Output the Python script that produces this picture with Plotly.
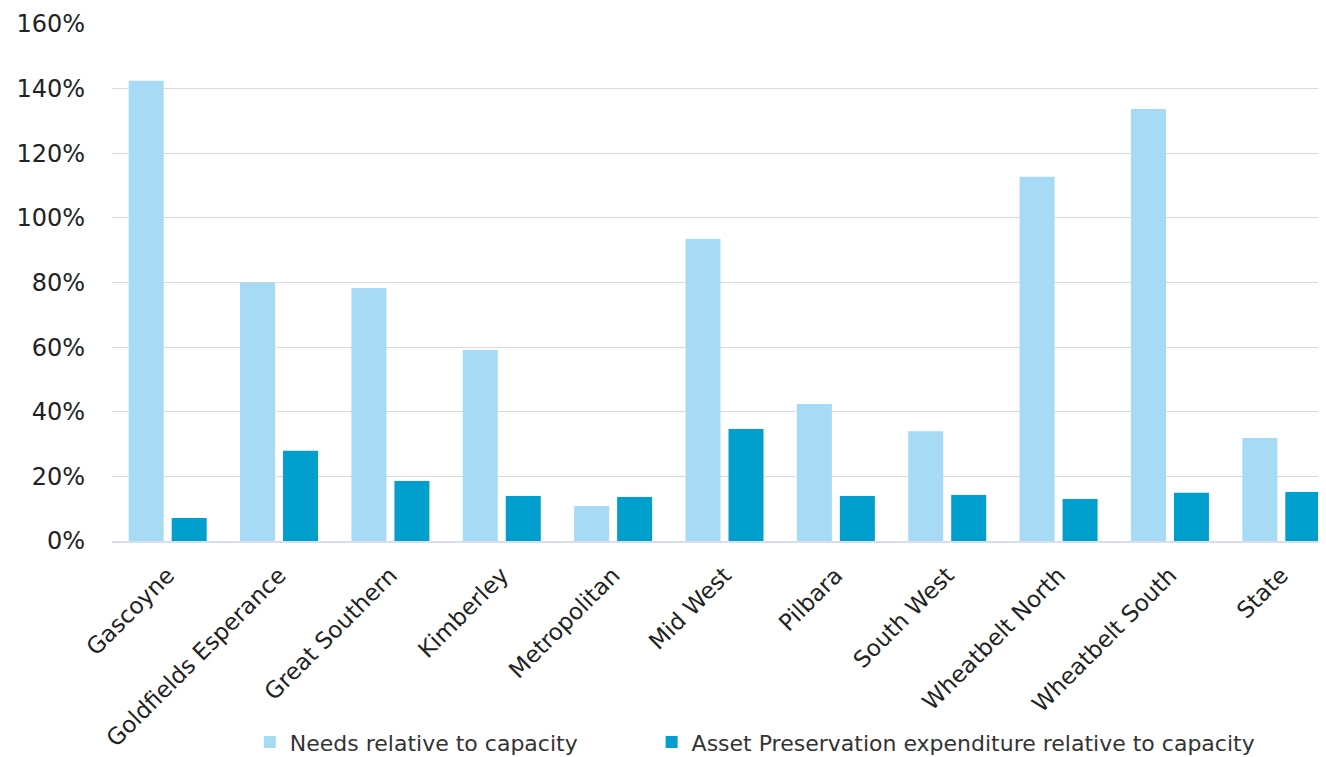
import plotly.graph_objects as go

categories = ["Gascoyne", "Goldfields Esperance", "Great Southern", "Kimberley",
              "Metropolitan", "Mid West", "Pilbara", "South West",
              "Wheatbelt North", "Wheatbelt South", "State"]
needs = [1.424, 0.80, 0.783, 0.591, 0.108, 0.935, 0.424, 0.340, 1.127, 1.337, 0.319]
asset_pres = [0.071, 0.279, 0.186, 0.139, 0.136, 0.347, 0.139, 0.142, 0.130, 0.149, 0.152]
yticks = [0, 0.2, 0.4, 0.6, 0.8, 1.0, 1.2, 1.4, 1.6]
font_family = "'DejaVu Sans', sans-serif"

fig = go.Figure()
fig.add_trace(go.Bar(x=categories, y=needs, name="Needs relative to capacity",
                     marker=dict(color="#A6DAF5", line=dict(width=0)),
                     legend="legend", showlegend=True))
fig.add_trace(go.Bar(x=categories, y=asset_pres,
                     name="Asset Preservation expenditure relative to capacity",
                     marker=dict(color="#009FCE", line=dict(width=0)),
                     legend="legend2", showlegend=True))

legend_common = dict(orientation="h", xanchor="left", y=-0.389, yanchor="middle",
                     font=dict(size=22, color="#333333"), itemwidth=30,
                     bgcolor="rgba(0,0,0,0)", visible=True)

fig.update_layout(
    width=1329, height=757,
    margin=dict(l=104, r=0, t=16, b=224),
    paper_bgcolor="white", plot_bgcolor="white",
    showlegend=True,
    barmode="group", bargap=0.228, bargroupgap=0.186,
    font=dict(family=font_family, color="#222222", size=22),
    legend=dict(x=0.1125, **legend_common),
    legend2=dict(x=0.4405, **legend_common),
    xaxis=dict(tickangle=-45, showline=True, linecolor="#D6DEEF", linewidth=1.5,
               tickfont=dict(size=23, color="#222222"), showgrid=False, ticks="",
               ticklabelstandoff=10),
    yaxis=dict(range=[0, 1.6], tickvals=yticks, tickformat=".0%",
               showgrid=True, gridcolor="#DADADA", gridwidth=1.3,
               zeroline=False, showline=False, ticks="",
               tickfont=dict(size=24, color="#222222"), ticklabelstandoff=26),
)

fig.write_html("out.html")
